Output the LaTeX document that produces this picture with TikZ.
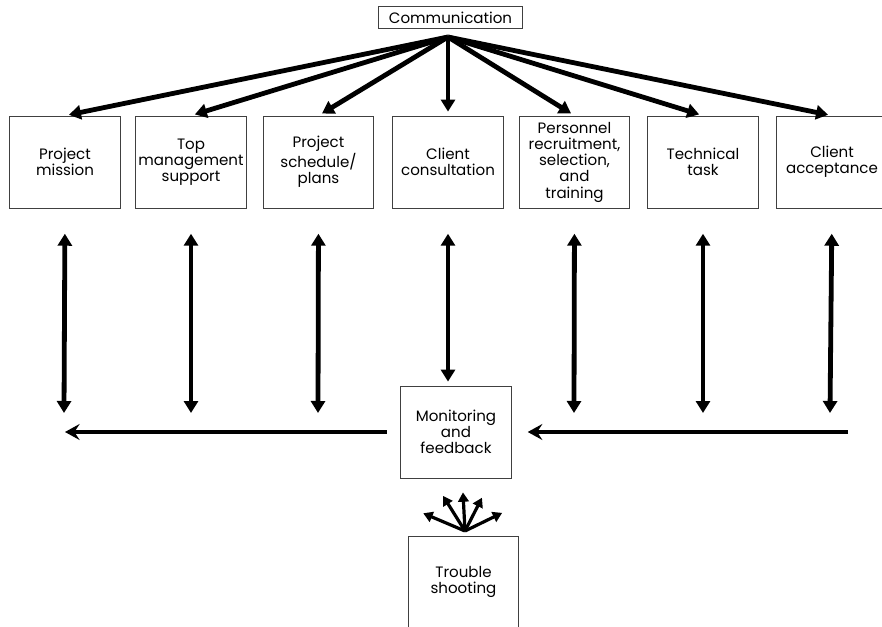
\documentclass[tikz,border=0pt]{standalone}
\usepackage{fontspec}
\setmainfont{Poppins}
\usetikzlibrary{arrows.meta,positioning}

\begin{document}
\begin{tikzpicture}[x=0.75pt,y=-0.75pt,
  factor/.style={draw=black!75,line width=0.6pt,minimum width=83pt,minimum height=69pt,
    align=center,inner sep=1pt,font=\fontsize{11.3}{12.2}\selectfont},
  thick arrow/.style={line width=3.6pt,-{Triangle[length=9pt,width=10.5pt]}},
  both arrow/.style={line width=3.6pt,{Triangle[length=9pt,width=10.5pt]}-{Triangle[length=9pt,width=10.5pt]}},
  back arrow/.style={line width=3.6pt,-{Stealth[length=11pt,width=12pt,inset=4pt]}},
  fan arrow/.style={line width=2.4pt,-{Triangle[length=7pt,width=8pt]}}]

\useasboundingbox (0,0) rectangle (882,627);

% communication on top
\node [draw=black!75,line width=0.6pt,minimum width=108pt,minimum height=16pt,inner sep=0pt,
  font=\fontsize{11.3}{12}\selectfont] (comm) at (450.5,17.5) {Communication};
\coordinate (hub) at (448,37);

% factors
\node [factor] (mission)   at (65,162)  {Project\\mission};
\node [factor] (support)   at (191,162) {Top\\management\\support};
\node [factor] (schedule)  at (318.5,162) {Project\\schedule/\\plans};
\node [factor] (client)    at (448,162) {Client\\consultation};
\node [factor] (personnel) at (574.5,162) {Personnel\\recruitment,\\selection,\\and\\training};
\node [factor] (task)      at (703,162) {Technical\\task};
\node [factor] (accept)    at (832,162) {Client\\acceptance};

% monitoring and trouble shooting
\node [factor] (monitor) at (456,432) {Monitoring\\and\\feedback};
\node [factor] (trouble) at (463.5,582) {Trouble\\shooting};

% communication to factors
\foreach \f in {mission,support,schedule,client,personnel,task,accept}
  \draw [thick arrow,shorten >=3pt] (hub) -- (\f.north);

% factors to feedback
\foreach \f/\x in {mission/64,support/191,schedule/318,personnel/574,task/703,accept/830}
{
  \coordinate (\f-end) at (\x,413);
  \draw [both arrow,shorten <=19pt] (\f.south) -- (\f-end);
}
\draw [both arrow,shorten <=19pt,shorten >=3pt] (client.south) -- (client.south |- monitor.north);

% feedback lines
\coordinate (left-end) at (65,432);
\coordinate (right-end) at (848,432);
\draw [back arrow,shorten <=10pt] (monitor.west) -- (left-end);
\draw [back arrow,shorten >=12pt] (right-end) -- (monitor.east);

% fan above trouble shooting
\coordinate (fan) at (465,531);
\foreach \a/\r in {157/34pt,122/31pt,93/29pt,63/28pt,26/31pt}
  \draw [fan arrow] (fan) -- ++(\a:\r);

\end{tikzpicture}
\end{document}
